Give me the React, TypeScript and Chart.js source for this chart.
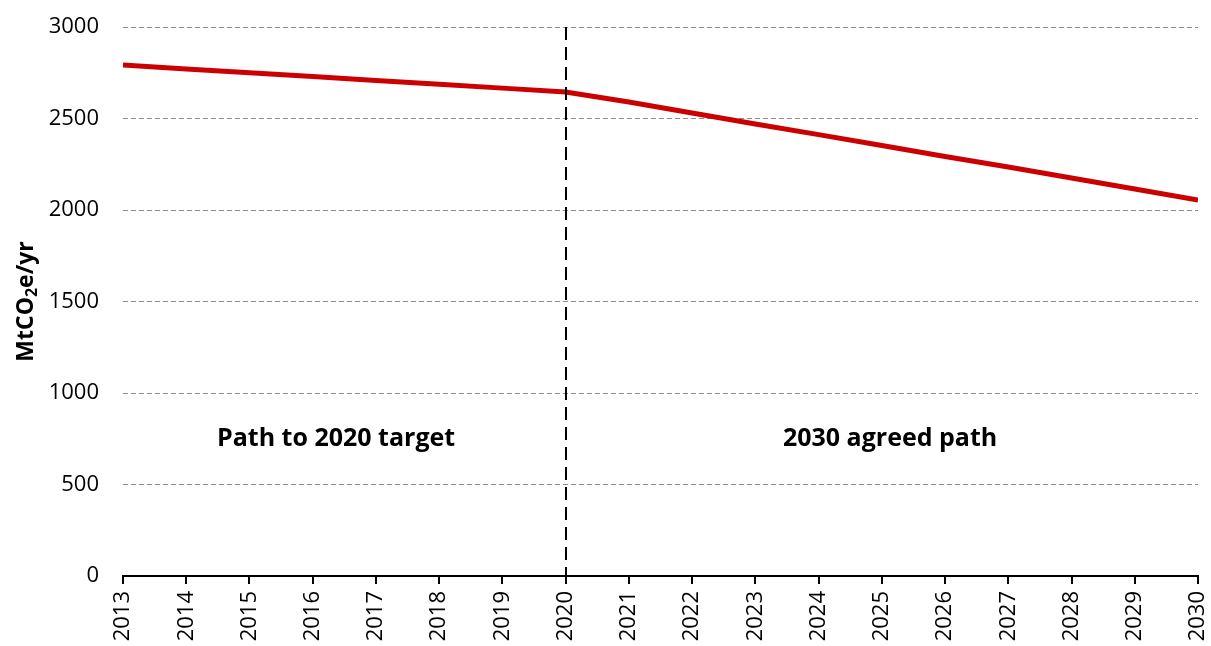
import React, { useEffect, useRef } from "react";
import { Chart, registerables } from "chart.js";

Chart.register(...registerables);

const years = [2013, 2014, 2015, 2016, 2017, 2018, 2019, 2020, 2021, 2022, 2023, 2024, 2025, 2026, 2027, 2028, 2029, 2030];
const emissions = [2792, 2771, 2750, 2729, 2708, 2687, 2666, 2645, 2590, 2530, 2470, 2412, 2352, 2292, 2235, 2175, 2115, 2055];
const yTicks = [0, 500, 1000, 1500, 2000, 2500, 3000];
const dividerYear = 2020;
const annotations = [
  { text: "Path to 2020 target", x: 2016.37, y: 750 },
  { text: "2030 agreed path", x: 2025.13, y: 750 },
];
const yTitle = { main: "MtCO", sub: "2", rest: "e/yr" };

const FONT = "'Open Sans', 'Noto Sans', sans-serif";

export default function App() {
  const ref = useRef<HTMLCanvasElement | null>(null);

  useEffect(() => {
    const canvas = ref.current;
    if (!canvas) return;

    const overlay = {
      id: "overlay",
      afterDatasetsDraw(chart: any) {
        const ctx = chart.ctx;
        const xs = chart.scales.x;
        const ys = chart.scales.y;
        const area = chart.chartArea;
        ctx.save();
        // vertical divider
        const dx = Math.round(xs.getPixelForValue(dividerYear));
        ctx.strokeStyle = "#000";
        ctx.lineWidth = 2;
        ctx.setLineDash([13, 7]);
        ctx.beginPath();
        ctx.moveTo(dx, area.top);
        ctx.lineTo(dx, area.bottom);
        ctx.stroke();
        ctx.setLineDash([]);
        // annotations
        ctx.fillStyle = "#000";
        ctx.font = `bold 25px ${FONT}`;
        ctx.textAlign = "center";
        ctx.textBaseline = "middle";
        for (const a of annotations) {
          ctx.fillText(a.text, xs.getPixelForValue(a.x), ys.getPixelForValue(a.y));
        }
        // y title with subscript
        const cy = (area.top + area.bottom) / 2;
        ctx.translate(26, cy);
        ctx.rotate(-Math.PI / 2);
        ctx.textBaseline = "middle";
        ctx.textAlign = "left";
        const bigFont = `bold 23px ${FONT}`;
        const subFont = `bold 16px ${FONT}`;
        ctx.font = bigFont;
        const w1 = ctx.measureText(yTitle.main).width;
        const w3 = ctx.measureText(yTitle.rest).width;
        ctx.font = subFont;
        const w2 = ctx.measureText(yTitle.sub).width;
        const total = w1 + w2 + w3;
        let x = -total / 2;
        ctx.font = bigFont;
        ctx.fillText(yTitle.main, x, 0);
        x += w1;
        ctx.font = subFont;
        ctx.fillText(yTitle.sub, x, 6);
        x += w2;
        ctx.font = bigFont;
        ctx.fillText(yTitle.rest, x, 0);
        ctx.restore();
      },
    };

    const chart = new Chart(canvas, {
      type: "line",
      data: {
        datasets: [
          {
            data: years.map((y, i) => ({ x: y, y: emissions[i] })),
            borderColor: "#CC0000",
            borderWidth: 5,
            pointRadius: 0,
            fill: false,
            tension: 0,
          },
        ],
      },
      options: {
        animation: false,
        responsive: false,
        maintainAspectRatio: false,
        layout: { padding: { top: 27, right: 13, left: 0, bottom: 0 } },
        plugins: { legend: { display: false }, tooltip: { enabled: false }, title: { display: false } },
        scales: {
          x: {
            type: "linear",
            min: years[0],
            max: years[years.length - 1],
            afterBuildTicks(scale: any) {
              scale.ticks = years.map((v) => ({ value: v }));
            },
            afterFit(scale: any) {
              scale.height = 70;
              scale.paddingLeft = 0;
              scale.paddingRight = 0;
            },
            ticks: {
              minRotation: 90,
              maxRotation: 90,
              padding: 7,
              color: "#000",
              font: { family: FONT, size: 22 },
              callback: (v: any) => String(v),
            },
            grid: {
              drawOnChartArea: false,
              drawTicks: true,
              tickLength: 8,
              color: "#000",
              lineWidth: 2,
            },
            border: { display: true, color: "#000", width: 2 },
          },
          y: {
            min: 0,
            max: 3000,
            afterBuildTicks(scale: any) {
              scale.ticks = yTicks.map((v) => ({ value: v }));
            },
            afterFit(scale: any) {
              scale.width = 123;
              scale.paddingTop = 0;
              scale.paddingBottom = 0;
            },
            ticks: {
              padding: 24,
              color: "#000",
              font: { family: FONT, size: 22 },
              callback: (v: any) => String(v),
            },
            grid: {
              drawTicks: false,
              color: "#8c8c8c",
              lineWidth: 1,
            },
            border: { display: false, dash: [5, 3] },
          },
        },
      },
      plugins: [overlay],
    } as any);

    return () => chart.destroy();
  }, []);

  return (
    <div style={{ position: "absolute", left: 0, top: 0, width: 1211, height: 646, background: "#fff" }}>
      <canvas ref={ref} width={1211} height={646} style={{ display: "block" }} />
    </div>
  );
}
